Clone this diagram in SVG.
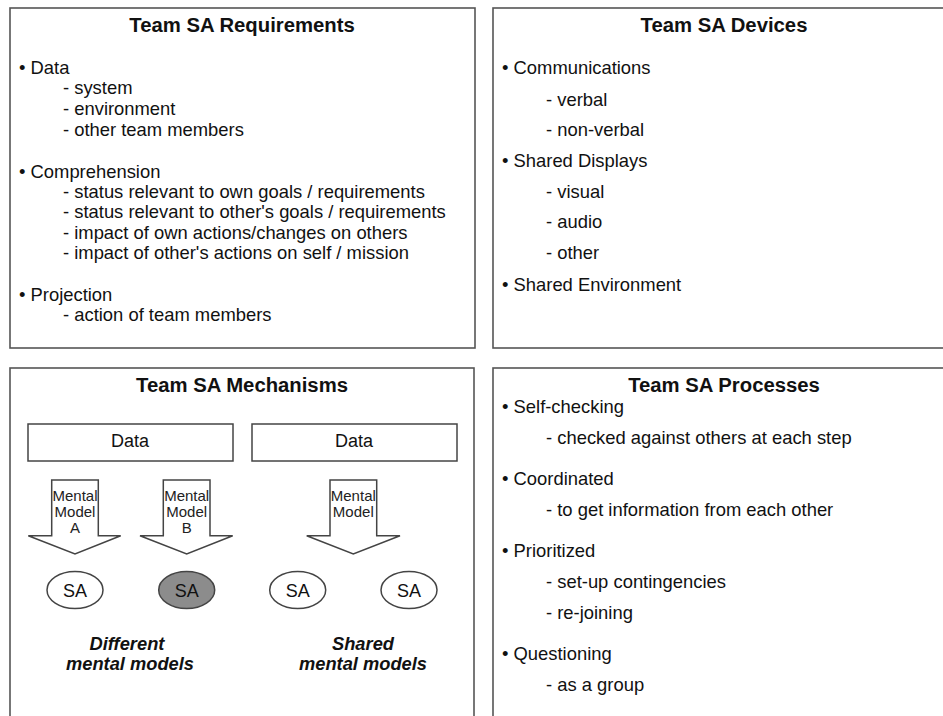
<svg xmlns="http://www.w3.org/2000/svg" width="943" height="716" viewBox="0 0 943 716">
<style>
.panel{fill:#fff;stroke:#555;stroke-width:1.6}
.title{font-family:"Liberation Sans",Arial,sans-serif;font-weight:bold;font-size:20.3px;fill:#111;text-anchor:middle}
.body{font-family:"Liberation Sans",Arial,sans-serif;font-size:18.4px;fill:#111}
.box{fill:#fff;stroke:#444;stroke-width:1.5}
.lbl{font-family:"Liberation Sans",Arial,sans-serif;font-size:18px;fill:#111;text-anchor:middle}
.small{font-family:"Liberation Sans",Arial,sans-serif;font-size:15px;fill:#222;text-anchor:middle}
.cap{font-family:"Liberation Sans",Arial,sans-serif;font-size:18.3px;font-weight:bold;font-style:italic;fill:#111;text-anchor:middle}
</style>
<rect width="943" height="716" fill="#fff"/>

<g id="requirements">
<rect class="panel" x="10" y="8" width="465" height="340"/>
<text class="title" x="242" y="32">Team SA Requirements</text>
<text class="body" x="19" y="74">• Data</text>
<text class="body" x="63" y="94">- system</text>
<text class="body" x="63" y="115">- environment</text>
<text class="body" x="63" y="136">- other team members</text>
<text class="body" x="19" y="178">• Comprehension</text>
<text class="body" x="63" y="198">- status relevant to own goals / requirements</text>
<text class="body" x="63" y="218">- status relevant to other's goals / requirements</text>
<text class="body" x="63" y="239">- impact of own actions/changes on others</text>
<text class="body" x="63" y="259">- impact of other's actions on self / mission</text>
<text class="body" x="19" y="301">• Projection</text>
<text class="body" x="63" y="321">- action of team members</text>
</g>

<g id="devices">
<rect class="panel" x="493" y="8" width="470" height="340"/>
<text class="title" x="724" y="32">Team SA Devices</text>
<text class="body" x="502" y="74">• Communications</text>
<text class="body" x="546" y="106">- verbal</text>
<text class="body" x="546" y="136">- non-verbal</text>
<text class="body" x="502" y="167">• Shared Displays</text>
<text class="body" x="546" y="198">- visual</text>
<text class="body" x="546" y="228">- audio</text>
<text class="body" x="546" y="259">- other</text>
<text class="body" x="502" y="291">• Shared Environment</text>
</g>

<g id="mechanisms">
<rect class="panel" x="10" y="368" width="464" height="360"/>
<text class="title" x="242" y="392">Team SA Mechanisms</text>
</g>

<g id="data-a">
<rect class="box" x="28" y="424" width="205" height="37"/>
<text class="lbl" x="130" y="447">Data</text>
</g>
<g id="data-b">
<rect class="box" x="252" y="424" width="205" height="37"/>
<text class="lbl" x="354" y="447">Data</text>
</g>

<g id="connectors">
<g id="arrow-a">
<polygon class="box" points="51.7,480 98.3,480 98.3,535.7 120.7,535.7 75,554 28.3,535.7 51.7,535.7"/>
<text class="small" x="75" y="501">Mental</text>
<text class="small" x="75" y="517">Model</text>
<text class="small" x="75" y="533">A</text>
</g>
<g id="arrow-b">
<polygon class="box" points="163.3,480 210,480 210,535.7 232.7,535.7 186.7,554 140,535.7 163.3,535.7"/>
<text class="small" x="186.7" y="501">Mental</text>
<text class="small" x="186.7" y="517">Model</text>
<text class="small" x="186.7" y="533">B</text>
</g>
<g id="arrow-shared">
<polygon class="box" points="330,480 376.7,480 376.7,535.7 400,535.7 353.3,554 306.7,535.7 330,535.7"/>
<text class="small" x="353.3" y="501">Mental</text>
<text class="small" x="353.3" y="517">Model</text>
</g>
</g>

<g id="sa-1">
<ellipse class="box" cx="75" cy="590" rx="28" ry="18.5"/>
<text class="lbl" x="75" y="596.5">SA</text>
</g>
<g id="sa-2">
<ellipse class="box" cx="186.7" cy="590" rx="28" ry="18.5" style="fill:#8c8c8c"/>
<text class="lbl" x="186.7" y="596.5">SA</text>
</g>
<g id="sa-3">
<ellipse class="box" cx="297.7" cy="590" rx="28" ry="18.5"/>
<text class="lbl" x="297.7" y="596.5">SA</text>
</g>
<g id="sa-4">
<ellipse class="box" cx="409" cy="590" rx="28" ry="18.5"/>
<text class="lbl" x="409" y="596.5">SA</text>
</g>

<g id="caption-different">
<text class="cap" x="127" y="650">Different</text>
<text class="cap" x="130" y="670">mental models</text>
</g>
<g id="caption-shared">
<text class="cap" x="363" y="650">Shared</text>
<text class="cap" x="363" y="670">mental models</text>
</g>

<g id="processes">
<rect class="panel" x="493" y="368" width="470" height="360"/>
<text class="title" x="724" y="392">Team SA Processes</text>
<text class="body" x="502" y="413">• Self-checking</text>
<text class="body" x="546" y="444">- checked against others at each step</text>
<text class="body" x="502" y="485">• Coordinated</text>
<text class="body" x="546" y="516">- to get information from each other</text>
<text class="body" x="502" y="557">• Prioritized</text>
<text class="body" x="546" y="588">- set-up contingencies</text>
<text class="body" x="546" y="619">- re-joining</text>
<text class="body" x="502" y="660">• Questioning</text>
<text class="body" x="546" y="691">- as a group</text>
</g>
</svg>
